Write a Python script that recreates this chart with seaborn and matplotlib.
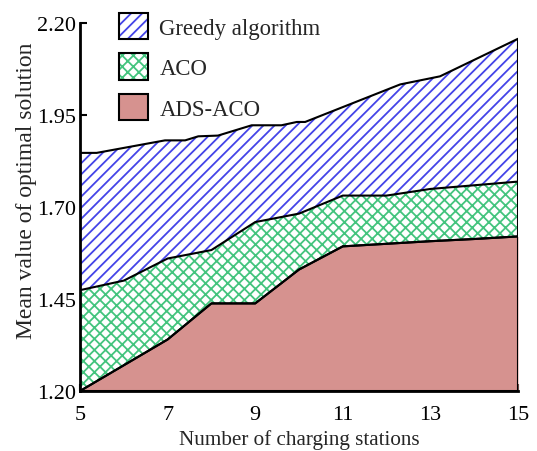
import numpy as np
import pandas as pd
import matplotlib
matplotlib.use("Agg")
import matplotlib.pyplot as plt
import seaborn as sns
from matplotlib.patches import Patch
from matplotlib.legend_handler import HandlerTuple

# ---- data ----
greedy_x = [5, 5.38, 6.94, 7.40, 7.70, 8.15, 8.92, 9.60, 9.95, 10.14, 12.31, 13.22, 15]
greedy_y = [1.847, 1.847, 1.881, 1.881, 1.892, 1.894, 1.922, 1.922, 1.931, 1.931, 2.033, 2.055, 2.157]

stations = [5, 6, 7, 8, 9, 10, 11, 12, 13, 14, 15]
aco_y = [1.474, 1.500, 1.560, 1.583, 1.659, 1.682, 1.731, 1.731, 1.749, 1.759, 1.769]
ads_aco_y = [1.200, 1.270, 1.340, 1.438, 1.438, 1.530, 1.593, 1.600, 1.607, 1.613, 1.620]

labels = ["Greedy algorithm", "ACO", "ADS-ACO"]
x_ticks = [5, 7, 9, 11, 13, 15]
y_ticks = [1.20, 1.45, 1.70, 1.95, 2.20]

sns.set_theme(style="ticks")
plt.rcParams['font.family'] = ['Liberation Serif', 'DejaVu Serif']
plt.rcParams['hatch.linewidth'] = 1.3

fig = plt.figure(figsize=(5.37, 4.52), dpi=100)
ax = fig.add_axes([0.149, 0.1327, 0.8156, 0.8143])

blue = '#4444e8'
green = '#44c47e'
red = '#d6928f'
base = 1.20

series = [
    (greedy_x, greedy_y, 'white', blue, '///'),
    (stations, aco_y, 'white', green, 'xxx'),
    (stations, ads_aco_y, red, red, None),
]
for i, (xs, ys, fc, hc, hatch) in enumerate(series):
    ax.fill_between(xs, base, ys, facecolor=fc, edgecolor=hc, hatch=hatch,
                    linewidth=0, zorder=1 + i)
    ax.fill_between(xs, base, ys, facecolor='none', edgecolor='black',
                    linewidth=1.5, zorder=1.5 + i)

df = pd.DataFrame({'x': stations, 'aco': aco_y, 'ads': ads_aco_y})
sns.lineplot(data=df, x='x', y='ads', color='black', lw=1.5, ax=ax, zorder=5)

ax.set_xlim(5, 15)
ax.set_ylim(1.20, 2.20)
ax.set_xticks(x_ticks)
ax.set_xticklabels([str(t) for t in x_ticks])
ax.set_yticks(y_ticks)
ax.set_yticklabels([f"{t:.2f}" for t in y_ticks])
ax.tick_params(direction='in', length=5, width=1.5, labelsize=16, colors='black')
ax.tick_params(axis='x', pad=10)
ax.tick_params(axis='y', pad=3)
for s in ['top', 'right']:
    ax.spines[s].set_visible(False)
for s in ['left', 'bottom']:
    ax.spines[s].set_linewidth(2)
    ax.spines[s].set_color('black')
    ax.spines[s].set_zorder(10)

ax.set_xlabel("Number of charging stations", fontsize=15.2, labelpad=3.5)
ax.set_ylabel("Mean value of optimal solution", fontsize=17)
ax.yaxis.set_label_coords(-0.098, 0.546)

handles = [
    (Patch(facecolor='white', edgecolor=blue, hatch='///', lw=0),
     Patch(facecolor='none', edgecolor='black', lw=1.5)),
    (Patch(facecolor='white', edgecolor=green, hatch='xxx', lw=0),
     Patch(facecolor='none', edgecolor='black', lw=1.5)),
    (Patch(facecolor=red, edgecolor=red, lw=0),
     Patch(facecolor='none', edgecolor='black', lw=1.5)),
]
leg = ax.legend(handles, labels, handler_map={tuple: HandlerTuple(ndivide=1, pad=0)},
                loc='upper left', bbox_to_anchor=(0.089, 1.027), frameon=False,
                fontsize=16.4, handlelength=1.27, handleheight=1.4,
                labelspacing=0.62, handletextpad=0.5,
                borderpad=0, borderaxespad=0)
leg.set_zorder(20)

fig.savefig("out.png", dpi=100)
